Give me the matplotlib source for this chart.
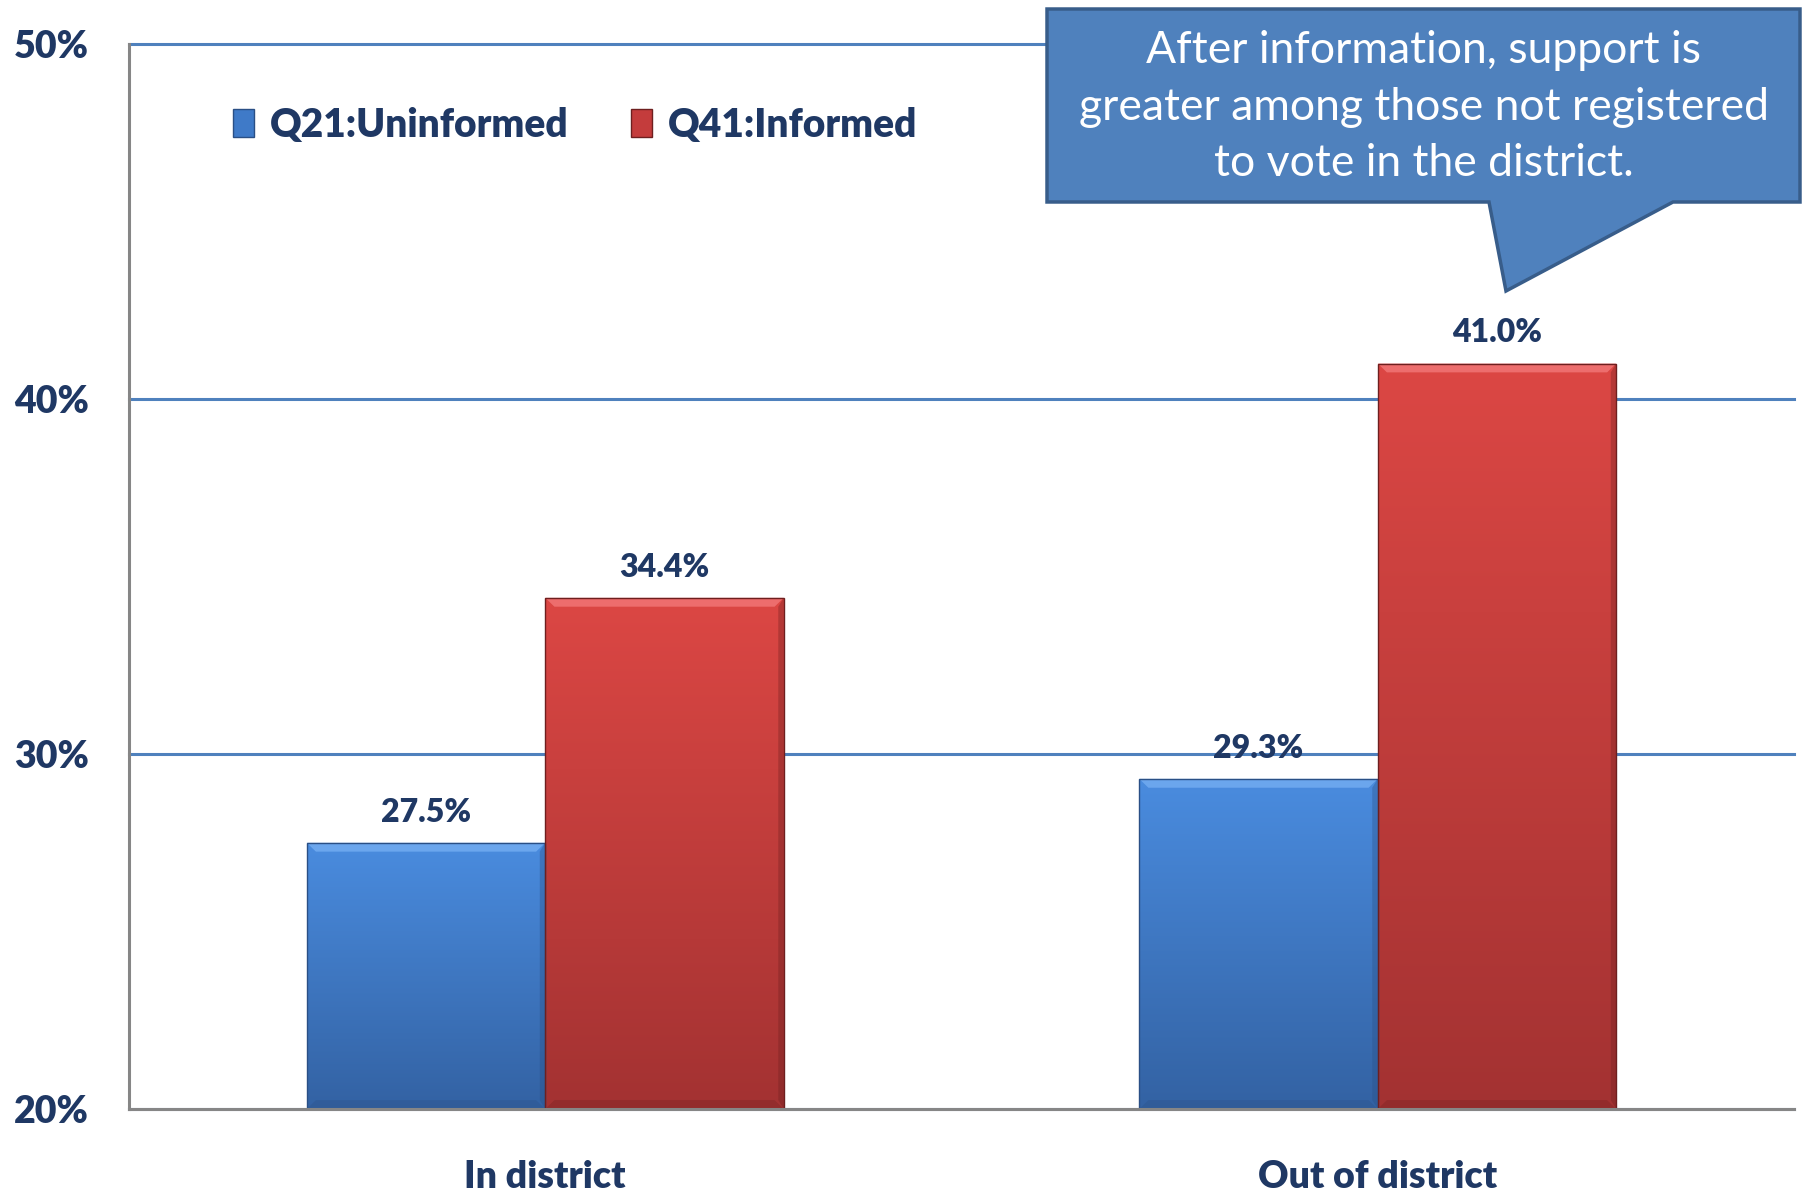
import numpy as np
import matplotlib
matplotlib.use('Agg')
import matplotlib.pyplot as plt
from matplotlib.patches import Patch, Polygon
from matplotlib.colors import LinearSegmentedColormap

# ---- data ----
categories = ['In district', 'Out of district']
uninformed = [27.5, 29.3]
informed = [34.4, 41.0]
series_names = ['Q21:Uninformed', 'Q41:Informed']
yticks = [20, 30, 40, 50]
callout_text = "After information, support is\ngreater among those not registered\nto vote in the district."

plt.rcParams['font.family'] = ['Lato', 'DejaVu Sans']

W, H = 1803, 1196
fig = plt.figure(figsize=(W / 100, H / 100), dpi=100)
ax = fig.add_axes([129 / W, 1 - 1109 / H, (1794 - 129) / W, (1109 - 44) / H])

navy = '#1F3864'
WEIGHT = 'heavy'
x = np.arange(len(categories))
w = 0.2865
ymin, ymax = 20, 50

series = [
    (uninformed, -w / 2, '#4A8CDF', '#3362A3', '#74AEF2', '#2A4F85'),
    (informed, w / 2, '#DC4744', '#A33232', '#F27878', '#6E1F1F'),
]

for vals, off, ctop, cbot, chi, cdark in series:
    bars = ax.bar(x + off, np.array(vals) - ymin, w, bottom=ymin,
                  color='none', edgecolor=cdark, linewidth=1.0, zorder=3)
    cmap = LinearSegmentedColormap.from_list('g', [cbot, ctop])
    grad = np.linspace(0, 1, 256).reshape(-1, 1)
    for b, v in zip(bars, vals):
        x0 = b.get_x()
        x1 = x0 + b.get_width()
        im = ax.imshow(grad, extent=[x0, x1, ymin, v], origin='lower',
                       aspect='auto', cmap=cmap, zorder=2)
        im.set_clip_path(b)
        dy = 0.25
        dx = 0.011
        ax.add_patch(Polygon([[x0, v], [x1, v], [x1 - dx, v - dy], [x0 + dx, v - dy]],
                             closed=True, facecolor=chi, edgecolor='none', alpha=0.8, zorder=2.5))
        ax.add_patch(Polygon([[x1, v], [x1, ymin], [x1 - dx * 0.6, ymin + dy], [x1 - dx * 0.6, v - dy]],
                             closed=True, facecolor=cdark, edgecolor='none', alpha=0.35, zorder=2.5))
        ax.add_patch(Polygon([[x0, ymin], [x1, ymin], [x1 - dx, ymin + dy], [x0 + dx, ymin + dy]],
                             closed=True, facecolor=cdark, edgecolor='none', alpha=0.3, zorder=2.5))
        ax.annotate(f'{v:.1f}%', (x0 + (x1 - x0) / 2, v), xytext=(0, 22),
                    textcoords='offset points', ha='center', va='center',
                    fontsize=23, fontweight=WEIGHT, color=navy, zorder=5)

ax.set_xlim(-0.5, 1.5)
ax.set_ylim(ymin, ymax)
ax.set_yticks(yticks)
ax.set_yticklabels([f'{t}%' for t in yticks])
ax.set_xticks(x)
ax.set_xticklabels(categories)
ax.tick_params(axis='both', length=0, labelcolor=navy, labelsize=27)
ax.tick_params(axis='y', pad=29)
ax.tick_params(axis='x', pad=37)
for lbl in ax.get_xticklabels() + ax.get_yticklabels():
    lbl.set_fontweight(WEIGHT)

ax.yaxis.grid(True, color='#4F81BD', linewidth=2.2)
ax.set_axisbelow(True)
for gl in ax.get_ygridlines():
    gl.set_clip_on(False)
for s in ['top', 'right']:
    ax.spines[s].set_visible(False)
for s in ['left', 'bottom']:
    ax.spines[s].set_color('#868686')
    ax.spines[s].set_linewidth(2.2)
    ax.spines[s].set_zorder(4)

# legend
handles = [Patch(facecolor='#3F7AC8', edgecolor='#2A4F85'),
           Patch(facecolor='#C43C3C', edgecolor='#6E1F1F')]
fig.legend(handles, series_names, loc='center left',
           bbox_to_anchor=(233 / W, 1 - 125 / H), ncol=2, frameon=False,
           prop={'size': 28, 'weight': WEIGHT}, labelcolor=navy,
           handlelength=0.55, handleheight=0.75, handletextpad=0.4,
           columnspacing=1.6, borderpad=0, borderaxespad=0)

# callout
def fpt(px, py):
    return (px / W, 1 - py / H)

pts = [fpt(1047, 9), fpt(1800, 9), fpt(1800, 202), fpt(1673, 202),
       fpt(1506, 291), fpt(1489, 202), fpt(1047, 202)]
fig.add_artist(Polygon(pts, closed=True, transform=fig.transFigure,
                       facecolor='#4F81BD', edgecolor='#385D8A', linewidth=2.5, zorder=10))
fig.text(1424 / W, 1 - 107 / H, callout_text, ha='center', va='center',
         color='white', fontsize=32, linespacing=1.47, zorder=11)

fig.savefig('out.png', dpi=100)
